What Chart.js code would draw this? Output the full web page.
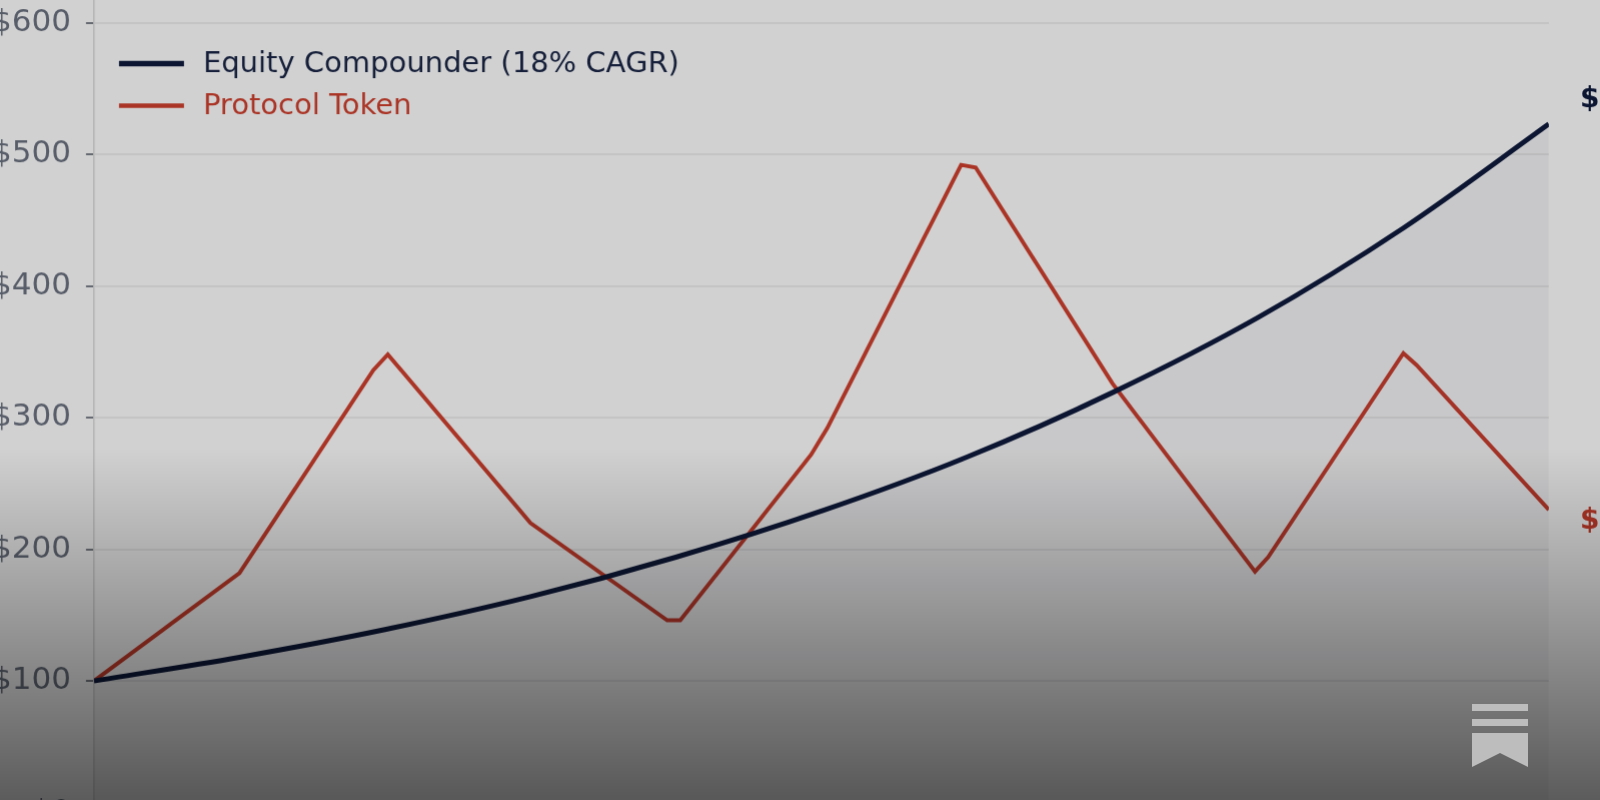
<!DOCTYPE html>
<html>
<head>
<meta charset="utf-8">
<script src="https://cdn.jsdelivr.net/npm/chart.js@4/dist/chart.umd.min.js"></script>
<style>
  html, body { margin: 0; padding: 0; }
  body { width: 1600px; height: 800px; overflow: hidden; position: relative; background: #ffffff; }
  #chart { position: absolute; left: 0; top: 0; }
  #shade {
    position: absolute; left: 0; top: 0; width: 1600px; height: 800px;
    background: linear-gradient(to bottom, rgba(0,0,0,0.18) 0%, rgba(0,0,0,0.18) 56%, rgba(0,0,0,0.64) 100%);
  }
  #mark { position: absolute; left: 1472px; top: 704px; }
</style>
</head>
<body>
<canvas id="chart" width="1700" height="900"></canvas>
<div id="shade"></div>
<svg id="mark" width="56" height="63" viewBox="0 0 56 63">
  <rect x="0" y="0" width="56" height="7" fill="#bdbdbd"/>
  <rect x="0" y="15" width="56" height="7" fill="#bdbdbd"/>
  <path d="M0 29 H56 V63 L28 49 L0 63 Z" fill="#bdbdbd"/>
</svg>
<script>
'use strict'

// values (x in years)
const equityYears = [0, 1, 2, 3, 4, 5, 6, 7, 8, 9, 10];
const equityValues = [100, 118, 139, 164, 194, 229, 270, 319, 376, 444, 523];

const tokenYears = [0, 1.0, 1.92, 2.02, 3.0, 3.94, 4.03, 4.93, 5.04, 5.96, 6.06, 7.0, 7.98, 8.07, 9.0, 9.09, 10];
const tokenValues = [100, 182, 336, 348, 220, 146, 146, 272, 292, 492, 490, 326, 183, 194, 349, 340, 230];

const yTicks = [0, 100, 200, 300, 400, 500, 600];

const seriesNames = ['Equity Compounder (18% CAGR)', 'Protocol Token'];
const navy = '#0f1b3d';
const red = '#d0402e';

function toPoints(xs, ys) {
    return xs.map((x, i) => ({ x: x, y: ys[i] }));
}

// legend drawn inside the plot, top left
const insideLegend = {
    id: 'insideLegend',
    afterDatasetsDraw(chart) {
        const ctx = chart.ctx;
        const area = chart.chartArea;
        ctx.save();
        ctx.font = '29px "DejaVu Sans"';
        ctx.textBaseline = 'middle';
        chart.data.datasets.forEach((ds, i) => {
            // plot top sits at the page top, so page y == area.top + y
            const y = area.top + 64 + i * 42;
            const x0 = area.left + 25;
            ctx.strokeStyle = ds.borderColor;
            ctx.lineWidth = ds.borderWidth + 0.5;
            ctx.beginPath();
            ctx.moveTo(x0, y);
            ctx.lineTo(x0 + 65, y);
            ctx.stroke();
            ctx.fillStyle = ds.labelColor;
            ctx.fillText(ds.label, x0 + 84, y + 1);
        });
        ctx.restore();
    }
};

// end-of-line value labels, to the right of the plot
const endLabels = {
    id: 'endLabels',
    afterDatasetsDraw(chart) {
        const ctx = chart.ctx;
        ctx.save();
        ctx.font = 'bold 28px "DejaVu Sans"';
        ctx.textBaseline = 'middle';
        chart.data.datasets.forEach((ds, i) => {
            const meta = chart.getDatasetMeta(i);
            const last = meta.data[meta.data.length - 1];
            const v = ds.data[ds.data.length - 1].y;
            ctx.fillStyle = ds.borderColor;
            ctx.fillText('$' + Math.round(v), last.x + 31, last.y + ds.labelShift);
        });
        ctx.restore();
    }
};

const config = {
    type: 'line',
    data: {
        datasets: [{
            label: seriesNames[0],
            data: toPoints(equityYears, equityValues),
            borderColor: navy,
            labelColor: '#1b2747',
            borderWidth: 5,
            backgroundColor: 'rgba(15, 27, 61, 0.045)',
            fill: 'origin',
            cubicInterpolationMode: 'monotone',
            pointRadius: 0,
            labelShift: -24
        }, {
            label: seriesNames[1],
            data: toPoints(tokenYears, tokenValues),
            borderColor: red,
            labelColor: red,
            borderWidth: 4,
            fill: false,
            tension: 0,
            pointRadius: 0,
            labelShift: 12
        }]
    },
    options: {
        responsive: false,
        maintainAspectRatio: false,
        animation: false,
        devicePixelRatio: 1,
        layout: { padding: { top: 0, right: 120, bottom: 0, left: 0 } },
        plugins: { legend: { display: false }, tooltip: { enabled: false } },
        scales: {
            x: {
                type: 'linear',
                min: 0,
                max: 10,
                display: false
            },
            y: {
                type: 'linear',
                min: 0,
                max: 617.5,
                afterBuildTicks: axis => { axis.ticks = yTicks.map(v => ({ value: v })); },
                ticks: {
                    callback: v => '$' + v,
                    color: '#6b7280',
                    padding: 15,
                    font: { family: 'DejaVu Sans', size: 31 }
                },
                grid: {
                    color: '#efefef',
                    lineWidth: 2,
                    tickColor: '#7c808a',
                    tickLength: 8,
                    tickWidth: 2
                },
                border: { display: true, color: '#dcdcdc', width: 1.5 }
            }
        }
    },
    plugins: [insideLegend, endLabels]
};

const canvas = document.getElementById('chart');
const myChart = new Chart(canvas, config);

// fit plot area to the picture: left edge 94px, right edge 1548px, $617.5 at top, $0 at 812px
let area = myChart.chartArea;
myChart.resize(canvas.width + (1454 - (area.right - area.left)), canvas.height + (812 - (area.bottom - area.top)));
area = myChart.chartArea;
canvas.style.left = (94 - area.left) + 'px';
canvas.style.top = (0 - area.top) + 'px';
myChart.update();
</script>
</body>
</html>
